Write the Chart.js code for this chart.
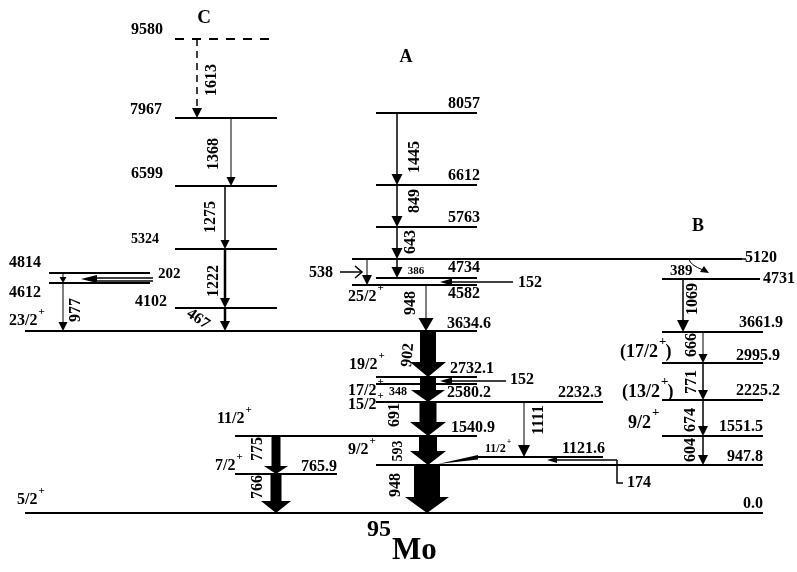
<!DOCTYPE html>
<html>
<head>
<meta charset="utf-8">
<title>95Mo level scheme</title>
<script src="https://cdn.jsdelivr.net/npm/chart.js@4.4.1/dist/chart.umd.min.js"></script>
<style>
  html, body { margin:0; padding:0; background:#fff; }
  #wrap { width:797px; height:572px; }
</style>
</head>
<body>
<div id="wrap"><canvas id="scheme" width="797" height="572"></canvas></div>
<script>
// level energies (keV) and where each level sits in the (not to scale) scheme
var levelEnergy = ['9580','7967','6599','5324','4102','4814','4612',
                   '8057','6612','5763','5120','4734','4582','3634.6',
                   '2732.1','2580.2','2232.3','1540.9','1121.6','947.8','765.9','0.0',
                   '4731','3661.9','2995.9','2225.2','1551.5'];
var levelRow  = [39,118,186,249,308,273,283, 113,185,227,259,278,285,331, 377,384,402,436,457,465,474,513, 279,332,363,400,436];
var levelFrom = [175,175,175,175,175,49,49, 376,376,376,352,376,352,25, 376,376,376,235,477,376,235,25, 662,662,662,662,662];
var levelTo   = [277,277,277,277,277,150,150, 477,477,477,742,477,477,477, 477,477,603,477,603,763,337,763, 760,763,763,763,763];
var levelTentative = ['9580'];

// gamma transitions: energy label, initial level, final level, intensity (line width)
var gammaEnergy = ['1613','1368','1275','1222','467','','977',
                   '1445','849','643','386','','948','902','','348','691','593','948',
                   '775','766','1111','1069','666','771','674','604'];
var gammaFrom = ['9580','7967','6599','5324','4102','4814','4612',
                 '8057','6612','5763','5120','5120','4582','3634.6','2732.1','2580.2','2232.3','1540.9','947.8',
                 '1540.9','765.9','2232.3','4731','3661.9','2995.9','2225.2','1551.5'];
var gammaTo = ['7967','6599','5324','4102','3634.6','4612','3634.6',
               '6612','5763','5120','4734','4582','3634.6','2732.1','2580.2','2232.3','1540.9','947.8','0.0',
               '765.9','0.0','1121.6','3661.9','2995.9','2225.2','1551.5','947.8'];
var gammaWidth = [1.5,1,1.5,2.5,2.5,1,1, 1.5,1.5,1.5,1.5,1,1,16,16,16,17,18,26, 9,11,1,1.5,1,1.5,1.5,1.5];

// layout of the transitions: column, head [width, length], label spot [x, y, angle]
var gammaColumn = [197,231,225,225,225,63,63, 397,397,397,397,367,426,428,428,428,428,428,427, 276,276,524,683,703,703,703,703];
var gammaHead = [[10,10],[9,9],[9,9],[10,10],[10,10],[7,6],[9,9],
                 [11,11],[11,11],[11,11],[11,11],[10,10],[15,13],[36,15],[0,0],[34,12],[36,14],[36,14],[44,16],
                 [24,8],[30,12],[12,12],[12,12],[9,9],[10,10],[10,10],[10,10]];
var gammaTag = [[212,80,-90],[214,154,-90],[211,217,-90],[214,281,-90],[198,319,35],null,[76,310,-90],
                [415,157,-90],[415,201,-90],[411,242,-90],[416,271,0],null,[411,303,-90],[408,355,-85],null,[398,392,0],
                [395,415,-90],[398,451,-90],[396,485,-90],
                [258,449,-90],[258,487,-90],[539,420,-90],[693,299,-90],[692,345,-90],[692,382,-90],[691,420,-90],[691,450,-90]];

// side pointers (transitions drawn horizontally)
var sideLabel = ['202','538','152','152','174','389'];

// spin-parity labels
var spinText = ['23/2+','25/2+','19/2+','17/2+','15/2+','11/2+','7/2+','5/2+','9/2+','11/2+','(17/2+)','(13/2+)','9/2+'];
var spinAt = [[9,321],[348,297],[349,365],[348,391],[348,405],[217,419],[215,466],[17,500],[348,450],[485,449],[620,352],[622,392],[628,423]];

// where the level energies are written: [x, y, align]
var levelTagAt = [[163,30,'right'],[162,110,'right'],[163,174,'right'],[159,239,'right'],[167,302,'right'],[9,263,'left'],[9,293,'left'],
                  [480,104,'right'],[480,176,'right'],[480,218,'right'],[745,258,'left'],[480,268,'right'],[480,294,'right'],[447,324,'left'],
                  [450,369,'left'],[447,393,'left'],[602,393,'right'],[451,428,'left'],[605,449,'right'],[763,457,'right'],[337,467,'right'],[763,504,'right'],
                  [763,279,'left'],[783,323,'right'],[780,356,'right'],[780,391,'right'],[763,427,'right']];

var FONT = '"Liberation Serif", "Times New Roman", serif';

function rowOf(e) { return levelRow[levelEnergy.indexOf(e)]; }

var levelSets = levelEnergy.map(function(e, i) {
  return {
    label: e,
    data: [{x: levelFrom[i], y: levelRow[i]}, {x: levelTo[i], y: levelRow[i]}],
    showLine: true,
    borderColor: '#000',
    borderWidth: 2,
    borderDash: levelTentative.indexOf(e) >= 0 ? [9, 8] : [],
    pointRadius: 0
  };
});

function text(ctx, s, x, y, size, align, angle) {
  ctx.save();
  ctx.font = 'bold ' + size + 'px ' + FONT;
  ctx.fillStyle = '#000';
  ctx.textBaseline = 'middle';
  ctx.translate(x, y);
  if (angle) ctx.rotate(angle * Math.PI / 180);
  ctx.textAlign = align || 'center';
  ctx.fillText(s, 0, 0);
  ctx.restore();
}

function spin(ctx, s, x, y, size) {
  var k = s.indexOf('+');
  var a = s.slice(0, k), b = s.slice(k + 1);
  ctx.save();
  ctx.fillStyle = '#000';
  ctx.textBaseline = 'middle';
  ctx.textAlign = 'left';
  ctx.font = 'bold ' + size + 'px ' + FONT;
  ctx.fillText(a, x, y);
  var w = ctx.measureText(a).width;
  ctx.font = 'bold ' + Math.round(size * 0.7) + 'px ' + FONT;
  ctx.fillText('+', x + w + 1, y - size * 0.55);
  var wp = ctx.measureText('+').width;
  ctx.font = 'bold ' + size + 'px ' + FONT;
  ctx.fillText(b, x + w + wp, y);
  ctx.restore();
}

function headLeft(ctx, x, y, w, l) {
  ctx.beginPath();
  ctx.moveTo(x, y);
  ctx.lineTo(x + l, y - w / 2);
  ctx.lineTo(x + l, y + w / 2);
  ctx.closePath();
  ctx.fill();
}

var schemePlugin = {
  id: 'scheme',
  beforeDraw: function(chart) {
    var ctx = chart.ctx;
    ctx.save();
    ctx.fillStyle = '#fff';
    ctx.fillRect(0, 0, chart.width, chart.height);
    ctx.restore();
  },
  afterDatasetsDraw: function(chart) {
    var ctx = chart.ctx, sx = chart.scales.x, sy = chart.scales.y;
    var X = function(v) { return sx.getPixelForValue(v); };
    var Y = function(v) { return sy.getPixelForValue(v); };
    ctx.save();
    ctx.fillStyle = '#000';
    ctx.strokeStyle = '#000';

    // vertical transitions
    gammaEnergy.forEach(function(g, i) {
      var xc = X(gammaColumn[i]);
      var ya = Y(rowOf(gammaFrom[i])), yb = Y(rowOf(gammaTo[i]));
      var w = gammaWidth[i], hw = gammaHead[i][0], hl = gammaHead[i][1];
      if (w <= 3) {
        ctx.save();
        ctx.lineWidth = w;
        if (levelTentative.indexOf(gammaFrom[i]) >= 0) ctx.setLineDash([7, 5]);
        ctx.beginPath();
        ctx.moveTo(xc, ya);
        ctx.lineTo(xc, yb - hl);
        ctx.stroke();
        ctx.restore();
      } else {
        ctx.fillRect(xc - w / 2, ya, w, yb - hl - ya + 0.5);
      }
      if (hw > 0) {
        ctx.beginPath();
        ctx.moveTo(xc - hw / 2, yb - hl);
        ctx.lineTo(xc + hw / 2, yb - hl);
        ctx.lineTo(xc, yb);
        ctx.closePath();
        ctx.fill();
      }
      var t = gammaTag[i];
      if (g && t) {
        var size = g === '386' ? 11 : (g === '348' ? 12 : (g === '593' ? 14 : 16));
        text(ctx, g, X(t[0]), Y(t[1]), size, 'center', t[2]);
      }
    });

    // side pointers
    ctx.lineWidth = 1.5;
    // 202
    ctx.beginPath(); ctx.moveTo(X(153), Y(278)); ctx.lineTo(X(92), Y(278)); ctx.stroke();
    ctx.beginPath(); ctx.moveTo(X(153), Y(281)); ctx.lineTo(X(97), Y(281)); ctx.stroke();
    headLeft(ctx, X(81), Y(279), 8, 16);
    text(ctx, sideLabel[0], X(158), Y(274), 15, 'left', 0);
    // 538
    ctx.beginPath(); ctx.moveTo(X(340), Y(272)); ctx.lineTo(X(362), Y(272)); ctx.stroke();
    ctx.beginPath(); ctx.moveTo(X(355), Y(266)); ctx.lineTo(X(362), Y(272)); ctx.lineTo(X(355), Y(278)); ctx.stroke();
    text(ctx, sideLabel[1], X(333), Y(273), 16, 'right', 0);
    // 152 (4734 -> 4582)
    ctx.beginPath(); ctx.moveTo(X(513), Y(282)); ctx.lineTo(X(450), Y(282)); ctx.stroke();
    headLeft(ctx, X(440), Y(282), 7, 12);
    text(ctx, sideLabel[2], X(518), Y(283), 16, 'left', 0);
    // 152 (2732.1 -> 2580.2)
    ctx.beginPath(); ctx.moveTo(X(506), Y(381)); ctx.lineTo(X(450), Y(381)); ctx.stroke();
    headLeft(ctx, X(440), Y(381), 7, 12);
    text(ctx, sideLabel[3], X(510), Y(380), 16, 'left', 0);
    // 174 (1121.6 -> 947.8)
    ctx.beginPath(); ctx.moveTo(X(617), Y(460)); ctx.lineTo(X(556), Y(460)); ctx.stroke();
    headLeft(ctx, X(547), Y(460), 6, 10);
    ctx.beginPath(); ctx.moveTo(X(617), Y(460)); ctx.lineTo(X(617), Y(483)); ctx.lineTo(X(623), Y(483)); ctx.stroke();
    text(ctx, sideLabel[4], X(627), Y(483), 16, 'left', 0);
    ctx.beginPath();
    ctx.moveTo(X(438), Y(464)); ctx.lineTo(X(478), Y(455)); ctx.lineTo(X(478), Y(459.5));
    ctx.closePath(); ctx.fill();
    // 389 (5120 -> 4731)
    ctx.lineWidth = 1;
    ctx.beginPath(); ctx.moveTo(X(689), Y(259)); ctx.quadraticCurveTo(X(690), Y(265), X(703), Y(270)); ctx.stroke();
    ctx.beginPath(); ctx.moveTo(X(709), Y(273)); ctx.lineTo(X(700), Y(272)); ctx.lineTo(X(704), Y(266)); ctx.closePath(); ctx.fill();
    text(ctx, sideLabel[5], X(670), Y(271), 15, 'left', 0);

    // level energies
    levelEnergy.forEach(function(e, i) {
      var p = levelTagAt[i];
      text(ctx, e, X(p[0]), Y(p[1]), e === '5324' ? 14 : 16, p[2], 0);
    });
    // 5120 connecting dash
    ctx.lineWidth = 1.5;
    ctx.beginPath(); ctx.moveTo(X(742), Y(259)); ctx.lineTo(X(746), Y(259)); ctx.stroke();

    // spins
    spinText.forEach(function(s, i) {
      var size = (i === 9) ? 12 : ((s.charAt(0) === '(' || i === 12) ? 18 : 16);
      spin(ctx, s, X(spinAt[i][0]), Y(spinAt[i][1]), size);
    });

    // band letters and nucleus
    text(ctx, 'C', X(204), Y(18), 19, 'center', 0);
    text(ctx, 'A', X(406), Y(57), 18, 'center', 0);
    text(ctx, 'B', X(698), Y(226), 18, 'center', 0);
    text(ctx, '95', X(379), Y(530), 24, 'center', 0);
    text(ctx, 'Mo', X(392), Y(551), 31, 'left', 0);
    ctx.restore();
  }
};

new Chart(document.getElementById('scheme'), {
  type: 'scatter',
  data: { datasets: levelSets },
  options: {
    responsive: false,
    animation: false,
    devicePixelRatio: 1,
    layout: { padding: 0 },
    plugins: { legend: { display: false }, tooltip: { enabled: false } },
    scales: {
      x: { type: 'linear', min: 0, max: 797, display: false },
      y: { type: 'linear', min: 0, max: 572, reverse: true, display: false }
    }
  },
  plugins: [schemePlugin]
});
</script>
</body>
</html>
